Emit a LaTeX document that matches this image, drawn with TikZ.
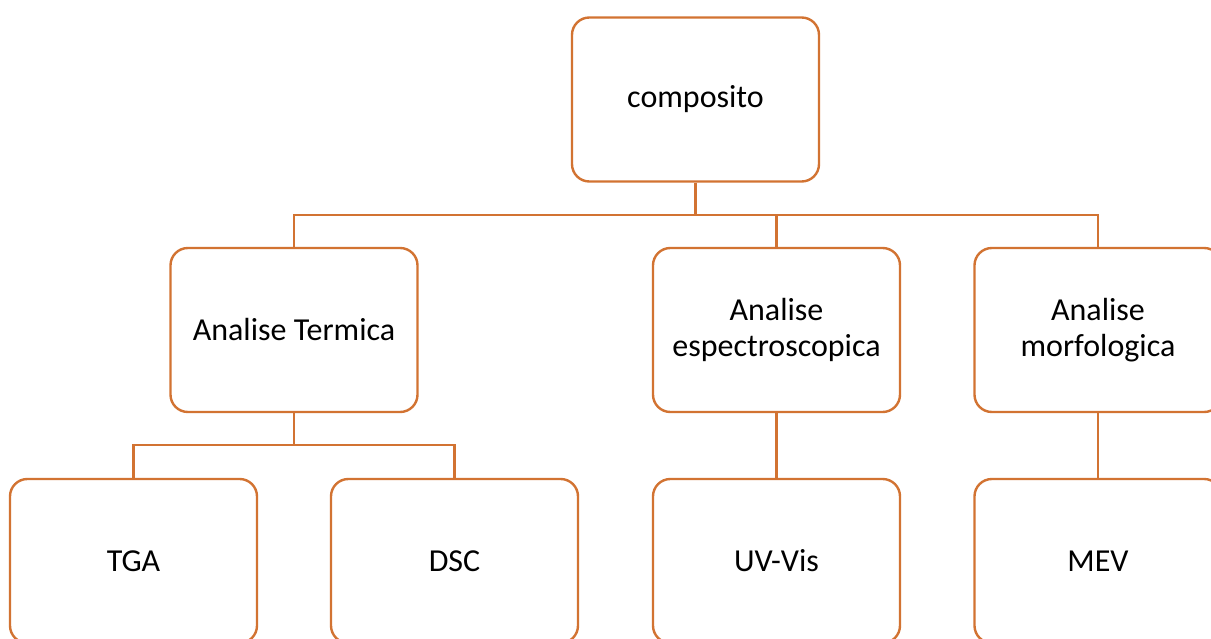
\documentclass[tikz,border=0pt]{standalone}
\usepackage{fontspec}
\setmainfont{Carlito}
\definecolor{laranja}{RGB}{210,115,50}

\begin{document}
\begin{tikzpicture}[x=0.75pt, y=-0.75pt, line width=1.8pt,
	caixa/.style={draw=laranja, rounded corners=13pt, fill=white, minimum width=247*0.75pt, minimum height=164*0.75pt, align=center, font=\fontsize{24}{26.5}\selectfont, inner sep=0pt}]

\useasboundingbox (0,0) rectangle (1211,639);

% caixas
\node[caixa] (comp) at (695.5,99.5) {composito};
\node[caixa] (term) at (294,330) {Analise Termica};
\node[caixa] (espec) at (776.5,330) {Analise\\espectroscopica};
\node[caixa] (morf) at (1098,330) {Analise\\morfologica};
\node[caixa] (tga) at (133.5,561) {TGA};
\node[caixa] (dsc) at (454.5,561) {DSC};
\node[caixa] (uv) at (776.5,561) {UV-Vis};
\node[caixa] (mev) at (1098,561) {MEV};

% ligacoes
\coordinate (bus1) at (695.5,215);
\coordinate (bus2) at (294,445);
\draw[laranja] (comp.south) -- (bus1);
\draw[laranja] (term.north) |- (bus1) -| (morf.north);
\draw[laranja] (espec.north) -- (espec.north |- bus1);
\draw[laranja] (term.south) -- (bus2);
\draw[laranja] (tga.north) |- (bus2) -| (dsc.north);
\draw[laranja] (espec.south) -- (uv.north);
\draw[laranja] (morf.south) -- (mev.north);
\end{tikzpicture}
\end{document}
